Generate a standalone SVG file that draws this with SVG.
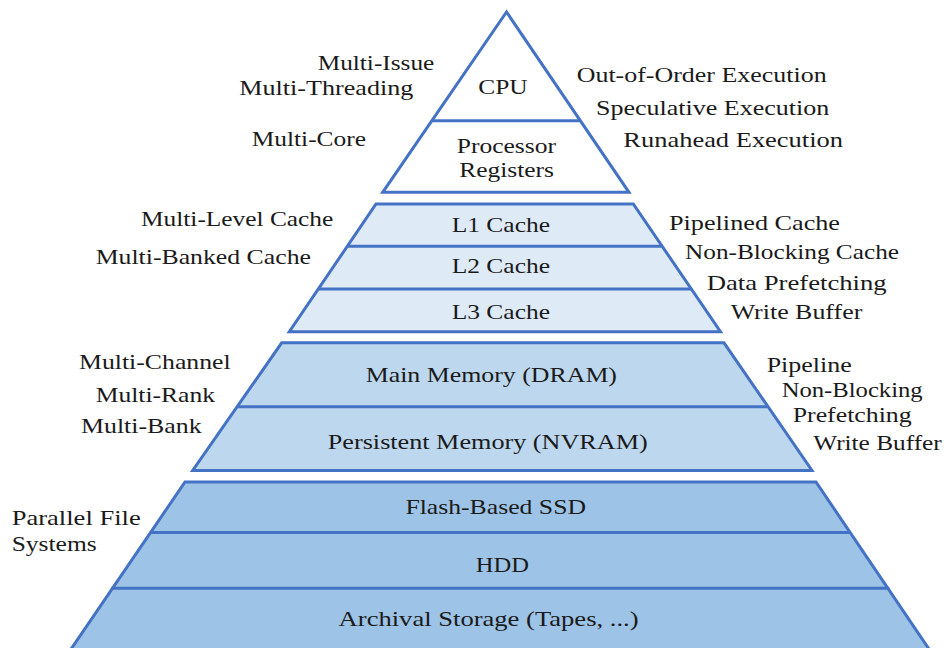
<svg xmlns="http://www.w3.org/2000/svg" width="946" height="648" viewBox="0 0 946 648">
  <style>
    .tier { stroke: #4472C4; stroke-width: 3; stroke-linejoin: miter; }
    .div { stroke: #4472C4; stroke-width: 3; fill: none; }
    .t1 { fill: #FFFFFF; }
    .t2 { fill: #DEEBF7; }
    .t3 { fill: #BDD7EE; }
    .t4 { fill: #9DC3E6; }
    .lbl { font-family: 'Liberation Serif', 'DejaVu Serif', serif; font-size: 21px; fill: #1a1a1a; }
  </style>
  <rect width="946" height="648" fill="#FFFFFF"/>

  <g id="tier-processor">
    <polygon class="tier t1" points="506.5,12 382.7,192.3 629,192.3"/>
    <line class="div" x1="432" y1="120.7" x2="580" y2="120.7"/>
  </g>
  <g id="tier-cache">
    <polygon class="tier t2" points="376,204 633.3,204 720.5,331.7 289.3,331.7"/>
    <line class="div" x1="348" y1="246.3" x2="661" y2="246.3"/>
    <line class="div" x1="319" y1="289" x2="691" y2="289"/>
  </g>
  <g id="tier-memory">
    <polygon class="tier t3" points="281.7,342.8 724,342.8 812,470.5 192.7,470.5"/>
    <line class="div" x1="238" y1="406.7" x2="767" y2="406.7"/>
  </g>
  <g id="tier-storage">
    <polygon class="tier t4" points="185,482 816,482 933,655 67,655"/>
    <line class="div" x1="150" y1="532.5" x2="851" y2="532.5"/>
    <line class="div" x1="111.2" y1="588.3" x2="889.3" y2="588.3"/>
  </g>

  <g class="lbl" font-family="Liberation Serif, DejaVu Serif, serif">
    <g id="node-cpu"><text x="478.3" y="94.3" textLength="49.4" lengthAdjust="spacingAndGlyphs">CPU</text></g>
    <g id="node-registers">
      <text x="456.7" y="152.7" textLength="99.3" lengthAdjust="spacingAndGlyphs">Processor</text>
      <text x="459.3" y="176.7" textLength="94.7" lengthAdjust="spacingAndGlyphs">Registers</text>
    </g>
    <g id="node-l1"><text x="451.7" y="232.3" textLength="98.3" lengthAdjust="spacingAndGlyphs">L1 Cache</text></g>
    <g id="node-l2"><text x="451.7" y="273.3" textLength="98.3" lengthAdjust="spacingAndGlyphs">L2 Cache</text></g>
    <g id="node-l3"><text x="451.7" y="319.3" textLength="98.3" lengthAdjust="spacingAndGlyphs">L3 Cache</text></g>
    <g id="node-dram"><text x="365.7" y="381.7" textLength="251.3" lengthAdjust="spacingAndGlyphs">Main Memory (DRAM)</text></g>
    <g id="node-nvram"><text x="327.8" y="449.3" textLength="319.9" lengthAdjust="spacingAndGlyphs">Persistent Memory (NVRAM)</text></g>
    <g id="node-ssd"><text x="405.4" y="514" textLength="180.6" lengthAdjust="spacingAndGlyphs">Flash-Based SSD</text></g>
    <g id="node-hdd"><text x="475.7" y="571.7" textLength="53.2" lengthAdjust="spacingAndGlyphs">HDD</text></g>
    <g id="node-archival"><text x="338.6" y="626" textLength="300" lengthAdjust="spacingAndGlyphs">Archival Storage (Tapes, ...)</text></g>

    <g id="labels-left">
      <text x="317.7" y="70" textLength="116.6" lengthAdjust="spacingAndGlyphs">Multi-Issue</text>
      <text x="239.3" y="95" textLength="174" lengthAdjust="spacingAndGlyphs">Multi-Threading</text>
      <text x="251.7" y="146" textLength="114.3" lengthAdjust="spacingAndGlyphs">Multi-Core</text>
      <text x="141" y="225.7" textLength="192.3" lengthAdjust="spacingAndGlyphs">Multi-Level Cache</text>
      <text x="95.7" y="264" textLength="215.3" lengthAdjust="spacingAndGlyphs">Multi-Banked Cache</text>
      <text x="79" y="369" textLength="151.7" lengthAdjust="spacingAndGlyphs">Multi-Channel</text>
      <text x="95.7" y="401.7" textLength="119.3" lengthAdjust="spacingAndGlyphs">Multi-Rank</text>
      <text x="81" y="432.7" textLength="120.7" lengthAdjust="spacingAndGlyphs">Multi-Bank</text>
      <text x="11.7" y="525" textLength="129" lengthAdjust="spacingAndGlyphs">Parallel File</text>
      <text x="11.7" y="551" textLength="85" lengthAdjust="spacingAndGlyphs">Systems</text>
    </g>

    <g id="labels-right">
      <text x="576.7" y="81.7" textLength="250" lengthAdjust="spacingAndGlyphs">Out-of-Order Execution</text>
      <text x="596" y="115" textLength="233.3" lengthAdjust="spacingAndGlyphs">Speculative Execution</text>
      <text x="623.3" y="147.3" textLength="219.7" lengthAdjust="spacingAndGlyphs">Runahead Execution</text>
      <text x="669" y="230" textLength="171" lengthAdjust="spacingAndGlyphs">Pipelined Cache</text>
      <text x="685" y="259" textLength="214" lengthAdjust="spacingAndGlyphs">Non-Blocking Cache</text>
      <text x="706.7" y="290" textLength="180" lengthAdjust="spacingAndGlyphs">Data Prefetching</text>
      <text x="730.7" y="319.3" textLength="131.6" lengthAdjust="spacingAndGlyphs">Write Buffer</text>
      <text x="766.7" y="371.7" textLength="85" lengthAdjust="spacingAndGlyphs">Pipeline</text>
      <text x="781.7" y="396.7" textLength="141" lengthAdjust="spacingAndGlyphs">Non-Blocking</text>
      <text x="792.7" y="421.7" textLength="119" lengthAdjust="spacingAndGlyphs">Prefetching</text>
      <text x="813.3" y="450" textLength="128.4" lengthAdjust="spacingAndGlyphs">Write Buffer</text>
    </g>
  </g>
</svg>
